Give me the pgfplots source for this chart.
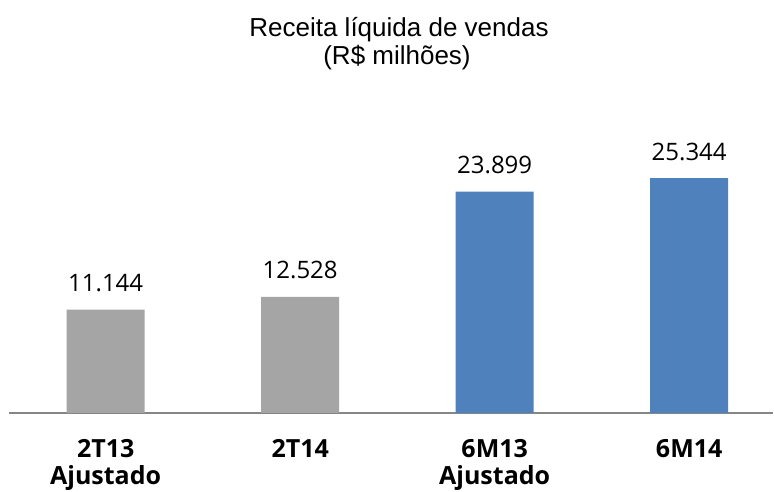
\documentclass[border=0pt]{standalone}
\usepackage{pgfplots}
\pgfplotsset{compat=1.18}
\usepackage{fontspec}
\setmainfont{Open Sans}
\newfontfamily\titlefont{Liberation Sans}
\definecolor{bargray}{HTML}{A5A5A5}
\definecolor{barblue}{HTML}{4F81BD}
\definecolor{axisgray}{HTML}{868686}

\begin{document}
\begin{tikzpicture}
\useasboundingbox (0,0) rectangle (774pt,492pt);
\node[anchor=base, inner sep=0pt, font=\titlefont\fontsize{26}{30}\selectfont] at (399pt,455pt) {Receita líquida de vendas};
\node[anchor=base, inner sep=0pt, font=\titlefont\fontsize{26}{30}\selectfont] at (397pt,427pt) {(R\$ milhões)};
\begin{axis}[
  at={(9pt,79pt)}, anchor=south west, scale only axis,
  width=764pt, height=278pt,
  xmin=-0.497, xmax=3.431, ymin=0, ymax=30000,
  axis y line=none, axis x line*=bottom,
  x axis line style={-, draw=axisgray, line width=1.5pt},
  xtick={0,1,2,3},
  xticklabels={{2T13\\Ajustado},2T14,{6M13\\Ajustado},6M14},
  xtick style={draw=none}, major tick length=0pt,
  ytick=\empty,
  xticklabel shift=26pt,
  xticklabel style={font=\bfseries\fontsize{25}{27}\selectfont, align=center,
    anchor=north, inner sep=0pt},
  ybar, bar width=78pt,
  /pgf/number format/assume math mode=true,
  /pgf/number format/1000 sep={.},
  nodes near coords,
  every node near coord/.append style={font=\fontsize{24}{27}\selectfont,
    inner sep=0pt, anchor=base, yshift=18pt, text=black},
]
\addplot[bar shift=0pt, fill=bargray, draw=none] coordinates {(0,11144) (1,12528)};
\addplot[bar shift=0pt, fill=barblue, draw=none] coordinates {(2,23899) (3,25344)};
\end{axis}
\end{tikzpicture}
\end{document}
